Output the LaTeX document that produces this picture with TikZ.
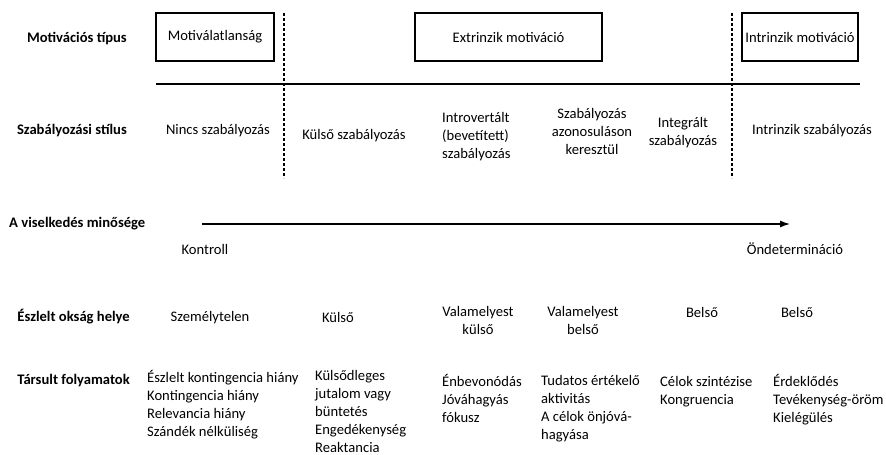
\documentclass[tikz,border=0pt]{standalone}
\usepackage{fontspec}
\setmainfont{Carlito}
\usetikzlibrary{arrows.meta}

\begin{document}
\begin{tikzpicture}[x=1pt,y=-1pt,
		every node/.style={inner sep=0pt,font=\fontsize{14.6}{17.8}\selectfont},
		rowlabel/.style={anchor=base east,font=\fontsize{14.6}{17.8}\selectfont\bfseries},
		typebox/.style={draw,line width=1.2pt,minimum height=48pt},
		item/.style={anchor=base,align=center},
		list/.style={anchor=base west,align=left},
		sepline/.style={line width=1.2pt,dash pattern=on 3pt off 2pt}]
		\useasboundingbox (0,0) rectangle (886,455);

		% sorok cimkei
		\node[rowlabel] (rtip) at (127,42) {Motivációs típus};
		\node[rowlabel] (rstil) at (127,134) {Szabályozási stílus};
		\node[rowlabel,anchor=base west] (rmin) at (9,227) {A viselkedés minősége};
		\node[rowlabel] (roks) at (130,321) {Észlelt okság helye};
		\node[rowlabel] (rfoly) at (130,384) {Társult folyamatok};

		% motivacios tipusok
		\node[typebox,minimum width=118pt] (amot) at (215,37) {Motiválatlanság};
		\node[typebox,minimum width=187pt] (extr) at (508.5,37) {Extrinzik motiváció};
		\node[typebox,minimum width=116pt] (intr) at (800,37) {Intrinzik motiváció};

		\foreach \x in {284,732}
		{
			\draw[sepline] (\x,13) -- (\x,178);
		}
		\draw[line width=1.2pt] (156,84) -- (860,84);

		% szabalyozasi stilusok (tobbsoros: az utolso sor alapvonala)
		\node[item] (nincs) at (218,134) {Nincs szabályozás};
		\node[item] (kulsz) at (354,139) {Külső szabályozás};
		\node[list] (introv) at (442,158) {Introvertált\\(bevetített)\\szabályozás};
		\node[item] (azon) at (592,154) {Szabályozás\\azonosuláson\\keresztül};
		\node[item] (integr) at (683,145) {Integrált\\szabályozás};
		\node[item] (intrsz) at (812,134) {Intrinzik szabályozás};

		% a viselkedes minosege
		\coordinate (kontr) at (202,224);
		\coordinate (ondet) at (790,224);
		\draw[line width=1.2pt,-{Latex[length=10pt,width=7pt]}] (kontr) -- (ondet);
		\node[item] (kontrl) at (205,254) {Kontroll};
		\node[item] (ondetl) at (795,254) {Öndetermináció};

		% eszlelt oksag helye
		\node[item] (szem) at (210,321) {Személytelen};
		\node[item] (kulso) at (338,322) {Külső};
		\node[item] (vkul) at (478,334) {Valamelyest\\külső};
		\node[item] (vbel) at (583,334) {Valamelyest\\belső};
		\node[item] (bel1) at (702,317) {Belső};
		\node[item] (bel2) at (797,317) {Belső};

		% tarsult folyamatok
		\node[list] (f1) at (147,436) {Észlelt kontingencia hiány\\Kontingencia hiány\\Relevancia hiány\\Szándék nélküliség};
		\node[list] (f2) at (315,452) {Külsődleges\\jutalom vagy\\büntetés\\Engedékenység\\Reaktancia};
		\node[list] (f3) at (442,422) {Énbevonódás\\Jóváhagyás\\fókusz};
		\node[list] (f4) at (541,439) {Tudatos értékelő\\aktivitás\\A célok önjóvá-\\hagyása};
		\node[list] (f5) at (660,404) {Célok szintézise\\Kongruencia};
		\node[list] (f6) at (773,422) {Érdeklődés\\Tevékenység-öröm\\Kielégülés};
	\end{tikzpicture}
\end{document}
